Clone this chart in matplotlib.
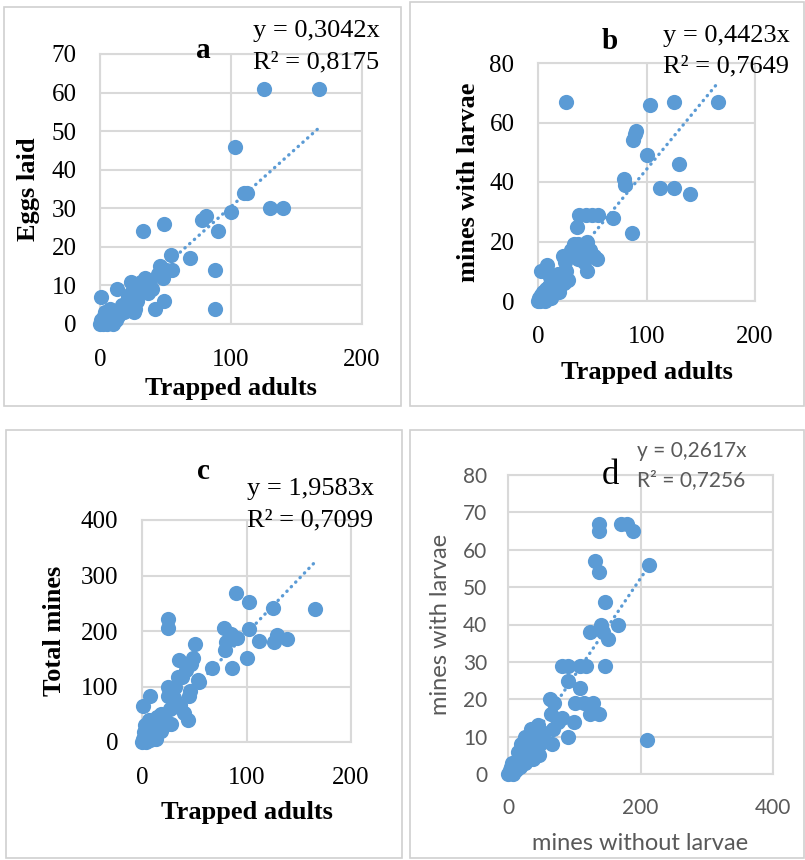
import matplotlib
matplotlib.use("Agg")
import matplotlib.pyplot as plt
from matplotlib.patches import Rectangle

W, H = 805, 860
BLUE = "#5B9BD5"
GRID = "#D9D9D9"
SERIF = "Liberation Serif"
SANS = "Lato"

# a: trapped adults vs eggs laid
a_x = [0, 1, 2, 3, 5, 6, 8, 10, 12, 14, 16, 18, 20, 22, 24, 26, 27, 28, 30, 24, 27, 13, 1,
       33, 49, 31, 34, 36, 37, 40, 42, 44, 46, 48, 49, 50, 54, 55, 69, 78, 81, 88, 88, 90,
       100, 103, 110, 112, 125, 130, 140, 167, 4, 9, 17, 21, 29, 33, 38]
a_y = [0, 1, 0, 2, 0, 1, 4, 0, 1, 2, 3, 3, 4, 5, 8, 3, 4, 6, 8, 11, 10, 9, 7,
       24, 26, 11, 12, 11, 8, 9, 4, 13, 15, 12, 6, 14, 18, 14, 17, 27, 28, 14, 4, 24,
       29, 46, 34, 34, 61, 30, 30, 61, 3, 2, 5, 7, 9, 10, 10]

# b: trapped adults vs mines with larvae
b_x = [0, 1, 2, 3, 4, 5, 6, 7, 8, 10, 12, 13, 15, 17, 18, 20, 22, 24, 26, 28, 3, 8, 23,
       33, 37, 37, 42, 45, 45, 48, 54, 36, 38, 44, 50, 55, 26, 69, 87, 79, 80, 88, 89, 90,
       100, 103, 112, 125, 125, 130, 140, 166, 11, 14, 19, 25, 30, 40, 52]
b_y = [0, 1, 0, 2, 1, 3, 0, 4, 2, 5, 1, 6, 3, 7, 9, 5, 8, 6, 10, 7, 10, 12, 15,
       19, 19, 14, 13, 20, 10, 17, 14, 25, 29, 29, 29, 29, 67, 28, 23, 41, 39, 54, 56, 57,
       49, 66, 38, 38, 67, 46, 36, 67, 8, 4, 3, 13, 17, 16, 15]

# c: trapped adults vs total mines
c_x = [0, 1, 2, 3, 4, 5, 6, 8, 8, 10, 12, 13, 14, 16, 18, 20, 22, 24, 28, 30, 1, 8, 25,
       29, 25, 32, 34, 38, 36, 40, 44, 45, 46, 35, 47, 49, 51, 54, 55, 25, 25, 67, 78, 79,
       80, 85, 86, 90, 91, 100, 102, 102, 112, 125, 126, 129, 139, 166, 3, 7, 11, 18, 27, 31, 42]
c_y = [0, 5, 18, 10, 0, 20, 8, 3, 25, 15, 35, 5, 45, 28, 20, 40, 30, 35, 33, 63, 64, 82, 82,
       95, 100, 100, 117, 118, 67, 52, 40, 82, 91, 148, 141, 151, 177, 112, 108, 205, 221, 133, 205, 166,
       180, 195, 133, 269, 188, 152, 204, 253, 182, 242, 180, 192, 186, 239, 30, 40, 22, 50, 60, 80, 130]

# d: mines without larvae vs mines with larvae
d_x = [0, 3, 5, 8, 10, 12, 15, 15, 18, 20, 22, 25, 25, 28, 30, 35, 37, 40, 45, 47, 48,
       63, 65, 66, 68, 70, 81, 81, 91, 91, 91, 99, 101, 108, 109, 114, 117, 124, 124, 128,
       132, 137, 137, 138, 138, 141, 143, 146, 147, 151, 166, 171, 179, 189, 210, 213,
       6, 13, 20, 32, 38, 42, 55, 75]
d_y = [0, 1, 2, 0, 3, 1, 4, 6, 2, 5, 7, 3, 10, 8, 6, 12, 4, 9, 13, 5, 8,
       20, 16, 8, 12, 19, 15, 29, 29, 25, 10, 14, 19, 23, 29, 19, 29, 16, 38, 19,
       57, 16, 67, 65, 54, 40, 38, 46, 29, 36, 40, 67, 67, 65, 9, 56,
       3, 2, 8, 7, 10, 6, 11, 14]

fig = plt.figure(figsize=(W / 100, H / 100), dpi=100)


def px_axes(left, top, right, bottom):
    return fig.add_axes([left / W, 1 - bottom / H, (right - left) / W, (bottom - top) / H])


def ftext(x, y, s, **kw):
    fig.text(x / W, 1 - y / H, s, **kw)


def panel(rect, x, y, slope, xmax, ymax, ystep, xticks, xlabel, ylabel, sans=False):
    ax = px_axes(*rect)
    ax.scatter(x, y, s=120, color=BLUE, linewidths=0, zorder=3, clip_on=False)
    xe = max(x)
    ax.plot([0, xe], [0, slope * xe], color=BLUE, lw=2.4, linestyle=(0, (0.1, 1.8)),
            dash_capstyle="round", zorder=4)
    ax.set_xlim(0, xmax)
    ax.set_ylim(0, ymax)
    ax.set_xticks(xticks)
    ax.set_yticks(range(0, ymax + 1, ystep))
    ax.grid(True, color=GRID, lw=1.5, zorder=0)
    for sp in ax.spines.values():
        sp.set_color(GRID)
        sp.set_linewidth(1.5)
    ax.set_axisbelow(True)
    if sans:
        ax.tick_params(axis="y", length=0, pad=15, labelsize=15, labelcolor="#595959")
        ax.tick_params(axis="x", length=0, pad=17, labelsize=15, labelcolor="#595959")
        for t in ax.get_xticklabels() + ax.get_yticklabels():
            t.set_family(SANS)
        ax.set_xlabel(xlabel, family=SANS, fontsize=17, color="#595959")
        ax.set_ylabel(ylabel, family=SANS, fontsize=17, color="#595959")
    else:
        ax.tick_params(axis="y", length=0, pad=17, labelsize=18)
        ax.tick_params(axis="x", length=0, pad=18, labelsize=18)
        for t in ax.get_xticklabels() + ax.get_yticklabels():
            t.set_family(SERIF)
        ax.set_xlabel(xlabel, family=SERIF, fontsize=19, fontweight="bold")
        ax.set_ylabel(ylabel, family=SERIF, fontsize=19, fontweight="bold")
    return ax


def place_labels(ax, rect, xl_y, yl_x):
    left, top, right, bottom = rect
    ax.xaxis.set_label_coords(0.5, (bottom - xl_y) / (bottom - top))
    ax.xaxis.label.set_va("center")
    ax.yaxis.set_label_coords((yl_x - left) / (right - left), 0.5)
    ax.yaxis.label.set_va("center")


# panel frames
for (l, t, r, b) in [(4, 7, 401, 406), (410, 2, 804, 406), (6, 430, 402, 858), (410, 430, 804, 858)]:
    fig.patches.append(Rectangle((l / W, 1 - b / H), (r - l) / W, (b - t) / H,
                                 transform=fig.transFigure, fill=False,
                                 edgecolor="#D0D0D0", lw=1.2))

ra = (100, 54, 362, 324)
ax_a = panel(ra, a_x, a_y, 0.3042, 200, 70, 10, [0, 100, 200], "Trapped adults", "Eggs laid")
place_labels(ax_a, ra, 389, 28)
ftext(203, 58, "a", family=SERIF, fontsize=21, fontweight="bold", ha="center", va="baseline")
ftext(253, 37, "y = 0,3042x", family=SERIF, fontsize=19, ha="left", va="baseline")
ftext(253, 68, "R² = 0,8175", family=SERIF, fontsize=19, ha="left", va="baseline")

rb = (538, 63, 755, 301)
ax_b = panel(rb, b_x, b_y, 0.4423, 200, 80, 20, [0, 100, 200], "Trapped adults", "mines with larvae")
place_labels(ax_b, rb, 373, 468)
ftext(610, 49, "b", family=SERIF, fontsize=21, fontweight="bold", ha="center", va="baseline")
ftext(663, 42, "y = 0,4423x", family=SERIF, fontsize=19, ha="left", va="baseline")
ftext(663, 72, "R² = 0,7649", family=SERIF, fontsize=19, ha="left", va="baseline")

rc = (142, 520, 351, 742)
ax_c = panel(rc, c_x, c_y, 1.9583, 200, 400, 100, [0, 100, 200], "Trapped adults", "Total mines")
place_labels(ax_c, rc, 813, 55)
ftext(203, 479, "c", family=SERIF, fontsize=21, fontweight="bold", ha="center", va="baseline")
ftext(247, 495, "y = 1,9583x", family=SERIF, fontsize=19, ha="left", va="baseline")
ftext(247, 526, "R² = 0,7099", family=SERIF, fontsize=19, ha="left", va="baseline")

rd = (508, 475, 773, 774)
ax_d = panel(rd, d_x, d_y, 0.2617, 400, 80, 10, [0, 200, 400], "mines without larvae",
             "mines with larvae", sans=True)
place_labels(ax_d, rd, 843, 440)
ftext(610, 484, "d", family=SERIF, fontsize=25, ha="center", va="baseline")
ftext(637, 457, "y = 0,2617x", family=SANS, fontsize=15, color="#595959", ha="left", va="baseline")
ftext(637, 486, "R² = 0,7256", family=SANS, fontsize=15, color="#595959", ha="left", va="baseline")

fig.savefig("out.png", dpi=100, facecolor="white")
